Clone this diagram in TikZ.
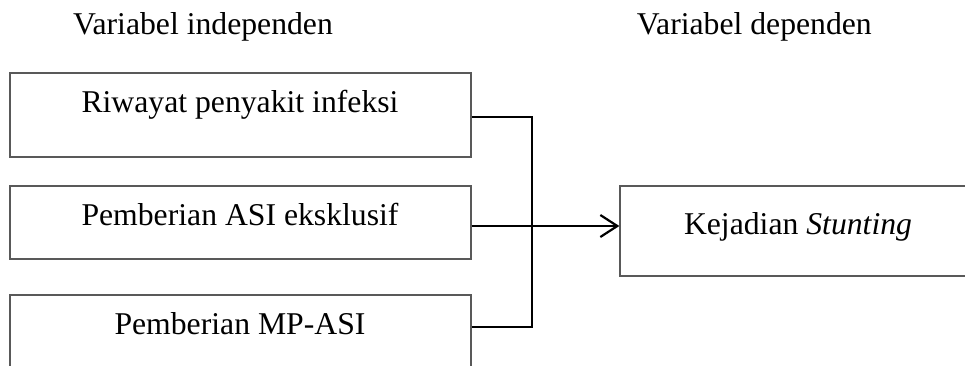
\documentclass[tikz,border=0pt]{standalone}
\usepackage{fontspec}
\setmainfont{Liberation Serif}
\usetikzlibrary{arrows.meta,calc}
\begin{document}
\begin{tikzpicture}[x=1pt,y=-1pt,
  box/.style={draw=black!65,line width=1.3pt,rectangle,inner sep=0pt},
  lbl/.style={anchor=base,inner sep=0pt,font=\fontsize{31.7}{38}\selectfont},
  conn/.style={draw=black,line width=2pt}]
\useasboundingbox (0,0) rectangle (965,365);
% headers
\node[lbl,anchor=base west] (h1) at (73,34) {Variabel independen};
\node[lbl,anchor=base east] (h2) at (872,34) {Variabel dependen};
% boxes
\node[box,minimum width=461pt,minimum height=84pt] (b1) at (240.5,115) {};
\node[box,minimum width=461pt,minimum height=73pt] (b2) at (240.5,222.5) {};
\node[box,minimum width=461pt,minimum height=85pt] (b3) at (240.5,337.5) {};
\node[box,minimum width=356pt,minimum height=90pt] (b4) at (798,231) {};
% texts
\node[lbl] (t1) at (240,112) {Riwayat penyakit infeksi};
\node[lbl] (t2) at (240,225) {Pemberian ASI eksklusif};
\node[lbl] (t3) at (240,334) {Pemberian MP-ASI};
\node[lbl] (t4) at (798,234) {Kejadian \textit{Stunting}};
% connectors
\coordinate (j) at (532,226);
\draw[conn] ([yshift=-2pt]b1.east) -| (j);
\draw[conn] ([yshift=10.5pt]b3.east) -| (j);
\draw[conn,line width=2.6pt,-{Straight Barb[length=17pt,width=22pt,line width=2.2pt]}] ([yshift=-3.5pt]b2.east) -- ([yshift=5pt]b4.west);
\end{tikzpicture}
\end{document}
